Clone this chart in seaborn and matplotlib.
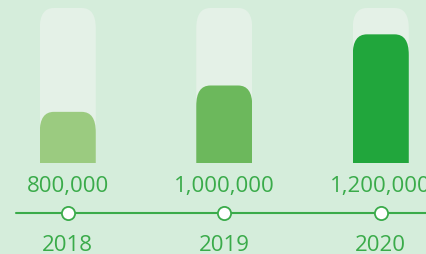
import matplotlib
matplotlib.use("Agg")
import matplotlib.pyplot as plt
import seaborn as sns
from matplotlib.patches import FancyBboxPatch, Rectangle

# data
years = ["2018", "2019", "2020"]
amounts = ["800,000", "1,000,000", "1,200,000"]
fill = [0.33, 0.50, 0.83]      # share of the track that is filled
track = [1.0, 1.0, 1.0]
bar_colors = ["#9bcb80", "#6cb85c", "#21a63c"]

bg = "#d5eddb"
track_color = "#e4f1e7"
green = "#3aab4a"

sns.set_theme(style="white")
plt.rcParams["font.family"] = ["Open Sans", "DejaVu Sans"]

fig = plt.figure(figsize=(4.26, 2.55), dpi=100)
fig.patch.set_facecolor(bg)
ax = fig.add_axes([0, 0, 1, 1])
ax.set_facecolor(bg)

bar_w = 0.358
sns.barplot(x=years, y=track, color=track_color, width=bar_w,
            saturation=1, ax=ax)
sns.barplot(x=years, y=fill, hue=years, palette=bar_colors, width=bar_w,
            saturation=1, legend=False, ax=ax)


def round_top(bars, r=0.09, aspect=1.45, z=2):
    # swap seaborn's rectangles for ones with rounded top corners
    for bar in list(bars):
        x, w, h = bar.get_x(), bar.get_width(), bar.get_height()
        c = bar.get_facecolor()
        bar.remove()
        extra = r * aspect
        p = FancyBboxPatch((x, -extra), w, h + extra,
                           boxstyle=f"round,pad=0,rounding_size={r}",
                           mutation_aspect=aspect,
                           fc=c, ec="none", zorder=z)
        ax.add_patch(p)
        p.set_clip_path(Rectangle((x, 0), w, h + 1, transform=ax.transData))


containers = list(ax.containers)
round_top(containers[0], z=2)
for cont in containers[1:]:
    round_top(cont, z=3)

# timeline
line_y = -0.323
ax.plot([-0.33, 2.4], [line_y, line_y], color=green, lw=1.5, zorder=3)
ax.scatter(range(len(years)), [line_y] * len(years), s=90, c="white",
           edgecolors=green, linewidths=1.3, zorder=4)

for i, (yr, amt) in enumerate(zip(years, amounts)):
    ax.text(i, -0.181, amt, ha="center", va="baseline", color=green,
            fontsize=16)
    ax.text(i, -0.561, yr, ha="center", va="baseline", color=green,
            fontsize=16)

ax.set_xlim(-0.433, 2.289)
ax.set_ylim(-0.587, 1.058)
ax.axis("off")

fig.savefig("out.png", dpi=100, facecolor=bg)
